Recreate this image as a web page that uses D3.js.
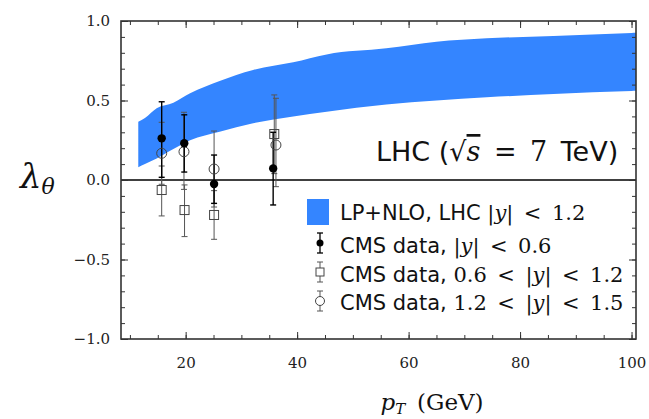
<!DOCTYPE html>
<html><head><meta charset="utf-8">
<script src="https://cdn.jsdelivr.net/npm/d3@7"></script>
<style>
html,body{margin:0;padding:0;background:#fff;}
svg{display:block;}
</style></head>
<body>
<svg id="chart" width="649" height="419"></svg>
<script>
// ---- data ----
const bandPt   = [11.5, 12.7, 14.8, 17.8, 20.8, 26.1, 32.1, 39.3, 45.3, 56, 65, 74, 86, 100, 101];
const bandHigh = [0.367, 0.39, 0.451, 0.486, 0.545, 0.623, 0.692, 0.740, 0.79, 0.828, 0.87, 0.891, 0.906, 0.925, 0.926];
const bandLow  = [0.08, 0.10, 0.135, 0.195, 0.25, 0.304, 0.357, 0.40, 0.43, 0.475, 0.50, 0.52, 0.541, 0.56, 0.561];

const filledPt  = [15.7, 19.75, 25.1, 35.7];
const filledVal = [0.262, 0.231, -0.025, 0.073];
const filledLo  = [0.017, 0.05, -0.147, -0.157];
const filledHi  = [0.492, 0.41, 0.157, 0.30];

const squarePt  = [15.7, 19.8, 25.1, 35.9];
const squareVal = [-0.063, -0.189, -0.22, 0.289];
const squareLo  = [-0.226, -0.356, -0.373, 0.04];
const squareHi  = [0.088, -0.031, -0.067, 0.535];

const openPt  = [15.7, 19.7, 25.1, 36.2];
const openVal = [0.168, 0.178, 0.069, 0.22];
const openLo  = [-0.027, -0.059, -0.17, -0.042];
const openHi  = [0.363, 0.426, 0.308, 0.514];

const xTickLabels = [20, 40, 60, 80, 100];
const yTickLabels = [-1.0, -0.5, 0.0, 0.5, 1.0];
const legendLabels = ["LP+NLO, LHC ", "CMS data, ", "CMS data, ", "CMS data, "];
const legendMath = ["|y| < 1.2", "|y| < 0.6", "0.6 < |y| < 1.2", "1.2 < |y| < 1.5"];

// ---- layout ----
const svg = d3.select("#chart");
const L = 121, R = 636, T = 21, B = 339;
const x = d3.scaleLinear().domain([8.4, 100.8]).range([L, R]);
const y = d3.scaleLinear().domain([-1, 1]).range([B, T]);
const BLUE = "#3485ff";
const serif = "'DejaVu Serif', serif";
const sans = "'DejaVu Sans', sans-serif";

svg.append("clipPath").attr("id","clip").append("rect")
  .attr("x", L).attr("y", T).attr("width", R-L).attr("height", B-T);

const plot = svg.append("g").attr("clip-path","url(#clip)");

// band
const bandData = bandPt.map((p,i)=>({p, lo: bandLow[i], hi: bandHigh[i]}));
plot.append("path").datum(bandData)
  .attr("fill", BLUE)
  .attr("d", d3.area().x(d=>x(d.p)).y0(d=>y(d.lo)).y1(d=>y(d.hi)).curve(d3.curveMonotoneX));

// zero line
plot.append("line").attr("x1", L).attr("x2", R).attr("y1", y(0)).attr("y2", y(0))
  .attr("stroke","#000").attr("stroke-width",1.5);

function errorBars(pts, lo, hi, color, w) {
  const g = plot.append("g").attr("stroke", color).attr("stroke-width", w);
  pts.forEach((p,i)=>{
    const cx = x(p);
    g.append("line").attr("x1",cx).attr("x2",cx).attr("y1",y(lo[i])).attr("y2",y(hi[i]));
    [lo[i],hi[i]].forEach(v=>g.append("line").attr("x1",cx-3).attr("x2",cx+3).attr("y1",y(v)).attr("y2",y(v)));
  });
}
errorBars(squarePt, squareLo, squareHi, "#555", 1);
errorBars(openPt, openLo, openHi, "#555", 1);
errorBars(filledPt, filledLo, filledHi, "#000", 1.4);

// markers
plot.append("g").selectAll("rect").data(squarePt).join("rect")
  .attr("x",(d)=>x(d)-4.5).attr("y",(d,i)=>y(squareVal[i])-4.5)
  .attr("width",9).attr("height",9).attr("fill","none").attr("stroke","#444").attr("stroke-width",1);
plot.append("g").selectAll("circle").data(openPt).join("circle")
  .attr("cx",d=>x(d)).attr("cy",(d,i)=>y(openVal[i])).attr("r",5)
  .attr("fill","none").attr("stroke","#444").attr("stroke-width",1);
plot.append("g").selectAll("circle").data(filledPt).join("circle")
  .attr("cx",d=>x(d)).attr("cy",(d,i)=>y(filledVal[i])).attr("r",4.2).attr("fill","#000");

// axes ticks (inward)
const xMinor = d3.range(10, 101, 5);
const yMinor = d3.range(-10, 11).map(v=>v/10);
function tickAxis(axisGen, transform) {
  const g = svg.append("g").attr("transform", transform).call(axisGen);
  g.select(".domain").remove();
  g.selectAll(".tick line").attr("stroke","#333").attr("stroke-width",1);
  return g;
}
tickAxis(d3.axisBottom(x).tickValues(xMinor).tickSize(-4).tickFormat(""), `translate(0,${B})`);
tickAxis(d3.axisTop(x).tickValues(xMinor).tickSize(-4).tickFormat(""), `translate(0,${T})`);
tickAxis(d3.axisLeft(y).tickValues(yMinor).tickSize(-4).tickFormat(""), `translate(${L},0)`);
tickAxis(d3.axisRight(y).tickValues(yMinor).tickSize(-4).tickFormat(""), `translate(${R},0)`);
const gx = tickAxis(d3.axisBottom(x).tickValues(xTickLabels).tickSize(-7).tickPadding(18).tickFormat(d3.format("d")), `translate(0,${B})`);
tickAxis(d3.axisTop(x).tickValues(xTickLabels).tickSize(-7).tickFormat(""), `translate(0,${T})`);
const gy = tickAxis(d3.axisLeft(y).tickValues(yTickLabels).tickSize(-7).tickPadding(11).tickFormat(d3.format(".1f")), `translate(${L},0)`);
tickAxis(d3.axisRight(y).tickValues(yTickLabels).tickSize(-7).tickFormat(""), `translate(${R},0)`);
[gx, gy].forEach(g=>g.selectAll("text").attr("font-family", serif).attr("font-size", 15).attr("fill","#222"));
gx.selectAll("text").attr("dy","0.71em");

// frame
svg.append("rect").attr("x",L).attr("y",T).attr("width",R-L).attr("height",B-T)
  .attr("fill","none").attr("stroke","#333").attr("stroke-width",1.6);

// axis titles
const xt = svg.append("text").attr("x", 432).attr("y", 410).attr("text-anchor","middle")
  .attr("font-family", serif).attr("font-size", 23).attr("fill","#111");
xt.append("tspan").attr("font-style","italic").text("p");
xt.append("tspan").attr("font-style","italic").attr("font-size",15).attr("dy",4).text("T");
xt.append("tspan").attr("dy",-4).text("\u2009 (GeV)");

const yt = svg.append("text").attr("x", 20).attr("y", 188)
  .attr("font-family", serif).attr("font-size", 34).attr("fill","#111");
yt.append("tspan").attr("font-style","italic").text("λ");
yt.append("tspan").attr("font-style","italic").attr("font-size",22).attr("dy",6).text("θ");

// LHC annotation
const lhc = svg.append("text").attr("x", 376).attr("y", 161)
  .attr("font-family", sans).attr("font-size", 27).attr("fill","#111");
lhc.append("tspan").text("LHC (");
lhc.append("tspan").attr("font-family", serif).text("√");
lhc.append("tspan").attr("font-family", serif).attr("font-style","italic").attr("text-decoration","overline").text("s");
lhc.append("tspan").attr("font-family", serif).text("\u2002=\u20027");
lhc.append("tspan").text("\u2002TeV)");

// legend
const legY = [220, 252.7, 281.7, 310];
const lg = svg.append("g");
lg.append("rect").attr("x",307).attr("y",199).attr("width",22).attr("height",26).attr("fill",BLUE);
function legBar(cy, color, w){
  lg.append("line").attr("x1",320).attr("x2",320).attr("y1",cy-10).attr("y2",cy+10).attr("stroke",color).attr("stroke-width",w);
  [cy-10,cy+10].forEach(v=>lg.append("line").attr("x1",317).attr("x2",323).attr("y1",v).attr("y2",v).attr("stroke",color).attr("stroke-width",w));
}
legBar(243, "#000", 1.3);
lg.append("circle").attr("cx",320).attr("cy",243).attr("r",3.5).attr("fill","#000");
legBar(272, "#555", 1);
lg.append("rect").attr("x",316).attr("y",268).attr("width",8).attr("height",8).attr("fill","#fff").attr("stroke","#444");
legBar(301, "#555", 1);
lg.append("circle").attr("cx",320).attr("cy",301).attr("r",4.5).attr("fill","#fff").attr("stroke","#444");

legendLabels.forEach((lab,i)=>{
  const t = lg.append("text").attr("x",340).attr("y",legY[i]).attr("font-family",sans).attr("font-size",21).attr("fill","#111");
  t.append("tspan").text(lab);
  const parts = legendMath[i].replace(/ < /g, "\u2002<\u2002").split(/(y)/);
  parts.forEach(pt=>{
    const s = t.append("tspan").attr("font-family", serif).text(pt);
    if (pt === "y") s.attr("font-style","italic");
  });
});
</script>
</body></html>
